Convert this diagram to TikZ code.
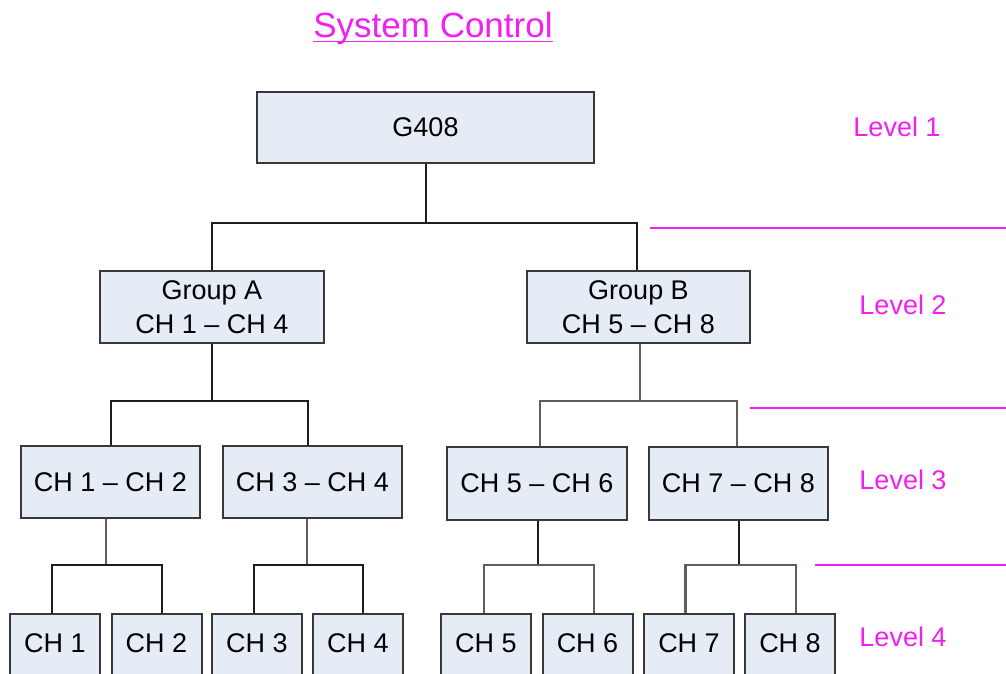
\documentclass[tikz,border=0pt]{standalone}
\usepackage{fontspec}
\setmainfont{Liberation Sans}
\definecolor{boxfill}{HTML}{E6ECF6}
\definecolor{boxline}{HTML}{383838}
\definecolor{mag}{HTML}{F020F0}
\definecolor{connA}{HTML}{1E1E1E}
\definecolor{connB}{HTML}{5E5E5E}
\begin{document}
\begin{tikzpicture}[x=1pt,y=-1pt,
  box/.style={draw=boxline,fill=boxfill,line width=2pt,inner sep=0pt,
    font=\fontsize{27}{34}\selectfont,align=center},
  leaf/.style={box,minimum width=90pt,minimum height=80pt,anchor=north,text depth=22pt},
  lvl/.style={text=mag,font=\fontsize{27}{32}\selectfont,anchor=base,inner sep=0pt},
  sepline/.style={draw=mag,line width=1.7pt},
  ca/.style={draw=connA,line width=2pt},
  cb/.style={draw=connB,line width=2.3pt}]
\useasboundingbox (0,0) rectangle (1006,673);
\clip (0,0) rectangle (1006,673);
\fill[white] (0,0) rectangle (1006,673);
% title
\node[text=mag,font=\fontsize{35}{40}\selectfont,anchor=base,inner sep=0pt] (title) at (433,37) {System Control};
\draw[mag,line width=1.7pt] ([yshift=-4.5pt]title.base west) -- ([yshift=-4.5pt]title.base east);
% boxes
\node[box,minimum width=337pt,minimum height=71pt] (g408) at (425.5,127.5) {G408};
\node[box,minimum width=224pt,minimum height=72pt] (ga) at (212,307) {Group A\\CH 1 -- CH 4};
\node[box,minimum width=223pt,minimum height=72pt] (gb) at (638.5,307) {Group B\\CH 5 -- CH 8};
\node[box,minimum width=179pt,minimum height=72pt] (c12) at (110.5,482) {CH 1 -- CH 2};
\node[box,minimum width=179pt,minimum height=72pt] (c34) at (312.5,482) {CH 3 -- CH 4};
\node[box,minimum width=180pt,minimum height=73pt] (c56) at (537,483.5) {CH 5 -- CH 6};
\node[box,minimum width=179pt,minimum height=73pt] (c78) at (738.5,483.5) {CH 7 -- CH 8};
\node[leaf] (ch1) at (55,613) {CH 1};
\node[leaf] (ch2) at (156.5,613) {CH 2};
\node[leaf] (ch3) at (257,613) {CH 3};
\node[leaf] (ch4) at (358,613) {CH 4};
\node[leaf] (ch5) at (486,613) {CH 5};
\node[leaf] (ch6) at (587.5,613) {CH 6};
\node[leaf] (ch7) at (689,613) {CH 7};
\node[leaf] (ch8) at (790,613) {CH 8};
% connectors level 1 -> 2
\draw[ca] (g408.south) -- (g408.south |- 0,223);
\draw[ca] (ga.north) -- (ga.north |- 0,223) -- ([xshift=-1.5pt]gb.north |- 0,223) -- ([xshift=-1.5pt]gb.north);
% level 2 -> 3
\draw[ca] (ga.south) -- (ga.south |- 0,401);
\draw[ca] (c12.north) -- (c12.north |- 0,401) -- ([xshift=-4.5pt]c34.north |- 0,401) -- ([xshift=-4.5pt]c34.north);
\draw[cb] ([xshift=1.5pt]gb.south) -- ([xshift=1.5pt]gb.south |- 0,401);
\draw[cb] ([xshift=3pt]c56.north) -- ([xshift=3pt]c56.north |- 0,401) -- ([xshift=-1.5pt]c78.north |- 0,401) -- ([xshift=-1.5pt]c78.north);
% level 3 -> 4
\draw[cb] ([xshift=-4.5pt]c12.south) -- ([xshift=-4.5pt]c12.south |- 0,565);
\draw[ca] ([xshift=-3pt]ch1.north) -- ([xshift=-3pt]ch1.north |- 0,565) -- ([xshift=5.5pt]ch2.north |- 0,565) -- ([xshift=5.5pt]ch2.north);
\draw[cb] ([xshift=-5.5pt]c34.south) -- ([xshift=-5.5pt]c34.south |- 0,565);
\draw[ca] ([xshift=-3pt]ch3.north) -- ([xshift=-3pt]ch3.north |- 0,565) -- ([xshift=5pt]ch4.north |- 0,565) -- ([xshift=5pt]ch4.north);
\draw[ca] ([xshift=1pt]c56.south) -- ([xshift=1pt]c56.south |- 0,565);
\draw[cb] ([xshift=-2pt]ch5.north) -- ([xshift=-2pt]ch5.north |- 0,565) -- ([xshift=6.5pt]ch6.north |- 0,565) -- ([xshift=6.5pt]ch6.north);
\draw[ca] ([xshift=0.5pt]c78.south) -- ([xshift=0.5pt]c78.south |- 0,565);
\draw[cb] ([xshift=-3.5pt]ch7.north) -- ([xshift=-3.5pt]ch7.north |- 0,565) -- ([xshift=6pt]ch8.north |- 0,565) -- ([xshift=6pt]ch8.north);
% level separators
\coordinate (s1a) at (650,228); \coordinate (s1b) at (1006,228);
\coordinate (s2a) at (750,408); \coordinate (s2b) at (1006,408);
\coordinate (s3a) at (815,565); \coordinate (s3b) at (1006,565);
\draw[sepline] (s1a) -- (s1b);
\draw[sepline] (s2a) -- (s2b);
\draw[sepline] (s3a) -- (s3b);
% level labels
\node[lvl] (l1) at (897,136) {Level 1};
\node[lvl] (l2) at (903,314) {Level 2};
\node[lvl] (l3) at (903,489) {Level 3};
\node[lvl] (l4) at (903,646) {Level 4};
\end{tikzpicture}
\end{document}
